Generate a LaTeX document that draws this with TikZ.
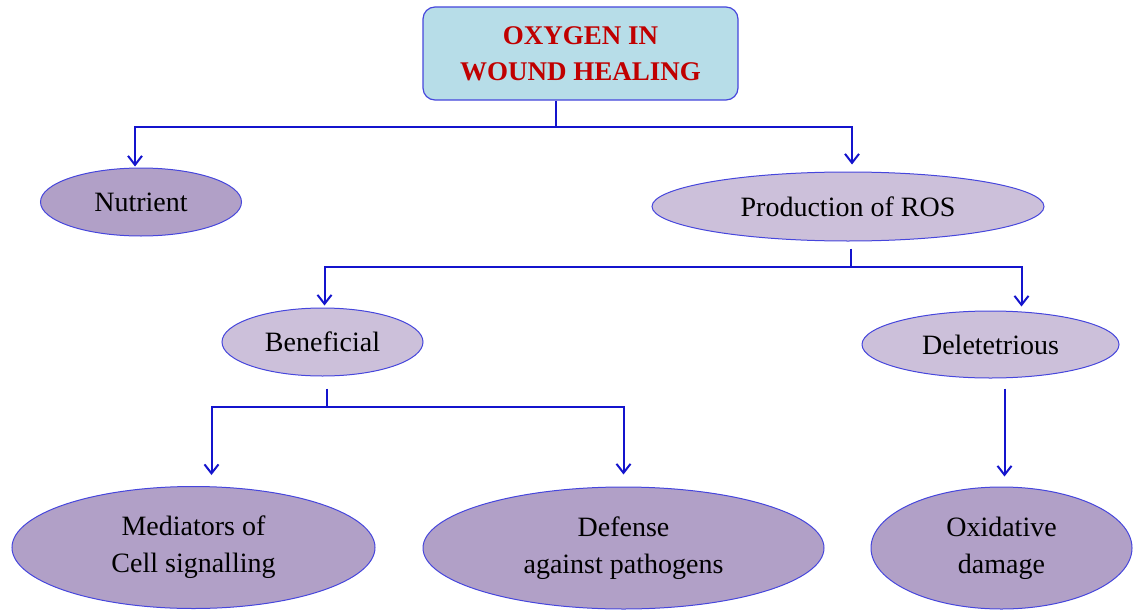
\documentclass[tikz,border=0pt]{standalone}
\usepackage{fontspec}
\setmainfont{Liberation Serif}
\usetikzlibrary{shapes.geometric,arrows.meta}
\definecolor{linkblue}{RGB}{20,20,205}
\definecolor{edgeblue}{RGB}{70,70,220}
\definecolor{titlefill}{RGB}{183,221,232}
\definecolor{titlered}{RGB}{192,0,0}
\definecolor{palelilac}{RGB}{204,192,218}
\definecolor{deeplilac}{RGB}{177,160,199}
\begin{document}
\begin{tikzpicture}[x=1pt,y=-1pt,
	topic/.style={ellipse,draw=edgeblue,line width=1pt,inner sep=0pt,align=center,font=\fontsize{28}{37}\selectfont},
	pale/.style={topic,fill=palelilac},
	deep/.style={topic,fill=deeplilac},
	link/.style={draw=linkblue,line width=2pt},
	tip/.style={link,-{Straight Barb[length=9pt,width=14pt,line width=2pt]}}]
		\useasboundingbox (0,0) rectangle (1134,610);
		%title
		\node (title) at (580.5,53.5) [draw=edgeblue,line width=1.2pt,fill=titlefill,rounded corners=12pt,minimum width=315pt,minimum height=93pt,align=center,text=titlered,font=\bfseries\fontsize{27}{36}\selectfont]{OXYGEN IN\\WOUND HEALING};
		
		%first level
		\node (nut) at (141,202) [deep,minimum width=201pt,minimum height=68pt]{Nutrient};
		\node (ros) at (848,206.5) [pale,minimum width=392pt,minimum height=69pt]{Production of ROS};
		
		%second level
		\node (ben) at (322.5,342) [pale,minimum width=201pt,minimum height=68pt]{Beneficial};
		\node (del) at (990.5,344.5) [pale,minimum width=257pt,minimum height=67pt]{Deletetrious};
		
		%third level
		\node (med) at (193.5,547.5) [deep,minimum width=363pt,minimum height=122pt]{Mediators of\\Cell signalling};
		\node (def) at (623.5,548) [deep,minimum width=401pt,minimum height=122pt]{Defense\\against pathogens};
		\node (oxi) at (1001.5,548) [deep,minimum width=261pt,minimum height=122pt]{Oxidative\\damage};
		
		%connectors
		\coordinate (fork1) at (556,127);
		\coordinate (fork2) at (851,267);
		\coordinate (fork3) at (327,407);
		\draw[link] (fork1 |- title.south) -- (fork1);
		\draw[tip] (fork1) -| ([xshift=-6pt,yshift=1pt]nut.north);
		\draw[tip] (fork1) -| ([xshift=4pt,yshift=7pt]ros.north);
		\draw[link] ([yshift=-7pt]fork2 |- ros.south) -- (fork2);
		\draw[tip] (fork2) -| ([xshift=2pt,yshift=2pt]ben.north);
		\draw[tip] (fork2) -| ([xshift=31pt,yshift=4pt]del.north);
		\draw[link] ([yshift=-12pt]fork3 |- ben.south) -- (fork3);
		\draw[tip] (fork3) -| ([xshift=18pt,yshift=11pt]med.north);
		\draw[tip] (fork3) -| ([yshift=12pt]def.north);
		\draw[tip] ([xshift=14pt,yshift=-10pt]del.south) -- ([xshift=3pt,yshift=10pt]oxi.north);
\end{tikzpicture}
\end{document}
